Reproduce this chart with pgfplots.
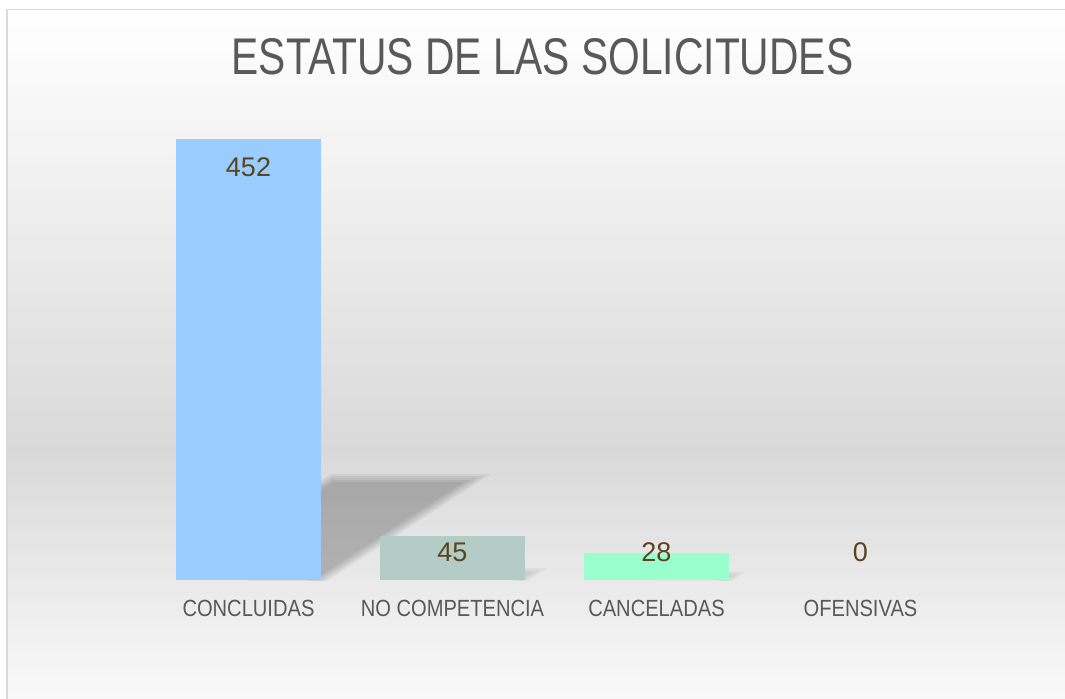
\documentclass[border=0pt]{standalone}
\usepackage{pgfplots}
\pgfplotsset{compat=1.18}
\usepackage{fontspec}
\setmainfont{Liberation Sans}
\newfontfamily\titlefont[FakeStretch=0.79]{Liberation Sans}
\newfontfamily\condfont[FakeStretch=0.86]{Liberation Sans}
\definecolor{bgmid}{HTML}{D9D9D9}
\definecolor{bordc}{HTML}{D9D9D9}
\definecolor{txtc}{HTML}{595959}
\definecolor{valc}{HTML}{5A4520}
\definecolor{cA}{HTML}{99CCFF}
\definecolor{cB}{HTML}{B3CCC5}
\definecolor{cC}{HTML}{99FFCC}
\begin{document}
\begin{tikzpicture}
\useasboundingbox (0,0) rectangle (532.5pt,349pt);
\fill[white] (0,0) rectangle (532.5pt,349pt);
\shade[top color=white, bottom color=bgmid, draw=none] (3.5pt,124pt) rectangle (540pt,344.25pt);
\shade[top color=bgmid, bottom color=white!98!black, draw=none] (3.5pt,-5pt) rectangle (540pt,124.01pt);
\draw[bordc, line width=0.75pt] (3.5pt,-10pt) rectangle (540pt,344.25pt);
\node[font=\titlefont\fontsize{25.8}{30}\selectfont, text=txtc, inner sep=0pt] at (271.25pt,320.75pt) {ESTATUS DE LAS SOLICITUDES};
\begin{axis}[
  at={(73.25pt,59pt)}, anchor=south west,
  scale only axis, width=408pt, height=243.9pt,
  xmin=-0.5, xmax=3.5, ymin=0, ymax=500,
  axis line style={draw=none}, major tick length=0pt,
  ytick=\empty, xtick={0,1,2,3},
  xticklabels={CONCLUIDAS,NO COMPETENCIA,CANCELADAS,OFENSIVAS},
  xticklabel style={font=\condfont\fontsize{11.7}{14}\selectfont, text=txtc, anchor=base, yshift=-18pt},
  clip=true,
  shadowlayer/.style={draw=none, fill=black, fill opacity=#1},
]
% soft perspective shadow of CONCLUIDAS (nested layers imitate the blur)
\addplot[shadowlayer=0.05] coordinates {(0,-5) (0,53.44) (0.40379,108.6) (1.18625,108.6) (0.3546,-5)} \closedcycle;
\addplot[shadowlayer=0.05] coordinates {(0,-5) (0,50.99) (0.40670,106.55) (1.15332,106.55) (0.3367,-5)} \closedcycle;
\addplot[shadowlayer=0.05] coordinates {(0,-5) (0,48.55) (0.40960,104.5) (1.12040,104.5) (0.3188,-5)} \closedcycle;
\addplot[shadowlayer=0.05] coordinates {(0,-5) (0,46.10) (0.41251,102.45) (1.08749,102.45) (0.3009,-5)} \closedcycle;
\addplot[shadowlayer=0.05] coordinates {(0,-5) (0,43.65) (0.41542,100.4) (1.05456,100.4) (0.2830,-5)} \closedcycle;
% shadow of NO COMPETENCIA
\addplot[shadowlayer=0.04] coordinates {(1,-5) (1,12.45) (1.4645,12.45) (1.3367,-5)} \closedcycle;
\addplot[shadowlayer=0.04] coordinates {(1,-5) (1,10.4) (1.4315,10.4) (1.3188,-5)} \closedcycle;
\addplot[shadowlayer=0.04] coordinates {(1,-5) (1,8.35) (1.3986,8.35) (1.3009,-5)} \closedcycle;
% shadow of CANCELADAS
\addplot[shadowlayer=0.04] coordinates {(2,-5) (2,8.52) (2.4357,8.52) (2.3367,-5)} \closedcycle;
\addplot[shadowlayer=0.04] coordinates {(2,-5) (2,6.47) (2.4028,6.47) (2.3188,-5)} \closedcycle;
\addplot[shadowlayer=0.04] coordinates {(2,-5) (2,4.42) (2.3699,4.42) (2.3009,-5)} \closedcycle;
% bars
\addplot[ybar, bar width=72.5pt, bar shift=0pt, fill=cA, draw=none] coordinates {(0,452)};
\addplot[ybar, bar width=72.5pt, bar shift=0pt, fill=cB, draw=none] coordinates {(1,45)};
\addplot[ybar, bar width=72.5pt, bar shift=0pt, fill=cC, draw=none] coordinates {(2,28)};
% value labels
\addplot[draw=none, mark=none, nodes near coords, point meta=explicit symbolic,
  nodes near coords style={anchor=center, inner sep=0pt, font=\fontsize{13.5}{16}\selectfont, text=valc, fill opacity=1, text opacity=1}]
  coordinates {(0,423.3)[452] (1,28.7)[45] (2,28.7)[28] (3,28.5)[0]};
\end{axis}
\end{tikzpicture}
\end{document}
